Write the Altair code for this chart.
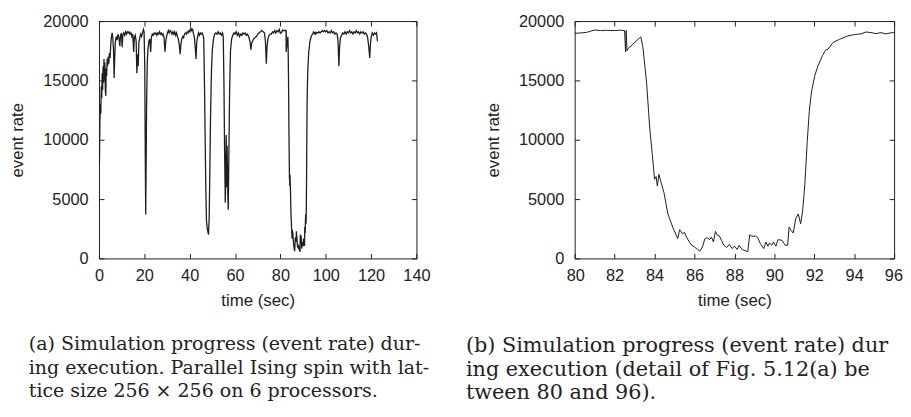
import altair as alt
import pandas as pd

# ---- data ----
time_a = [0.2, 0.4, 0.6, 0.8, 1.0, 1.2, 1.4, 1.6, 1.8, 2.0, 2.2, 2.4, 2.6, 2.8, 3.0, 3.2, 3.4, 3.6, 3.8, 4.0,
          4.3, 4.6, 4.9, 5.2, 5.5, 5.8, 6.1, 6.4, 6.7, 6.9, 7.2, 7.6, 8.0, 8.4, 8.8, 9.2, 9.5, 9.9, 10.2, 10.5,
          10.9, 11.3, 11.7, 12.1, 12.5, 12.9, 13.3, 13.7, 14.1, 14.5, 14.9, 15.3, 15.6, 16.0, 16.4, 16.7, 17.0,
          17.3, 17.6, 18.0, 18.4, 18.8, 19.2, 19.6, 19.9, 20.2, 20.4, 20.6, 20.8, 21.0, 21.3, 21.6, 22.0, 22.4,
          22.8, 23.1, 23.5, 23.9, 24.3, 24.7, 25.1, 25.5, 25.9, 26.3, 26.7, 27.1, 27.5, 27.9, 28.3, 28.7, 29.1,
          29.4, 29.8, 30.2, 30.6, 31.0, 31.4, 31.8, 32.2, 32.6, 33.0, 33.4, 33.8, 34.2, 34.6, 35.0, 35.4, 35.8,
          36.1, 36.5, 36.9, 37.3, 37.7, 38.1, 38.5, 38.9, 39.3, 39.7, 40.1, 40.5, 40.9, 41.3, 41.7, 42.1, 42.5,
          42.8, 43.1, 43.5, 43.9, 44.3, 44.7, 45.1, 45.5, 45.9, 46.2, 46.5, 46.8, 47.1, 47.4, 47.7, 48.0, 48.3,
          48.6, 48.9, 49.2, 49.6, 50.0, 50.5, 51.0, 51.5, 52.0, 52.5, 53.0, 53.5, 54.0, 54.5, 54.8, 55.1, 55.4,
          55.7, 55.9, 56.1, 56.3, 56.5, 56.8, 57.0, 57.3, 57.6, 58.0, 58.5, 59.0, 59.5, 60.0, 60.5, 61.0, 61.5,
          62.0, 62.5, 63.0, 63.5, 64.0, 64.5, 65.0, 65.5, 66.0, 66.6, 67.0, 67.3, 67.7, 68.2, 68.8, 69.4, 70.0,
          70.6, 71.2, 71.8, 72.4, 73.0, 73.4, 73.8, 74.1, 74.5, 75.0, 75.5, 76.0, 76.5, 77.0, 77.5, 78.0, 78.5,
          79.0, 79.5]
rate_a = [8000, 11500, 13000, 12200, 14500, 13500, 15600, 14200, 16200, 14800, 16800, 15000, 16500, 14200, 13700,
          16000, 15400, 16800, 16200, 17000, 16400, 17300, 16900, 18000, 18700, 19000, 18600, 17600, 15200, 16800,
          18200, 18700, 18400, 18900, 18600, 17900, 18800, 19000, 17800, 18800, 19000, 18800, 19100, 18900, 19100,
          19000, 19100, 18900, 19000, 18700, 18900, 17400, 18600, 18800, 18300, 15600, 17200, 16200, 18200, 18600,
          18900, 18700, 19000, 19300, 19100, 16000, 9000, 3700, 8000, 13000, 16500, 17600, 18300, 18500, 17400,
          18600, 18900, 18800, 19000, 18900, 19000, 18800, 19000, 18900, 19100, 18900, 19000, 18800, 18900, 18600,
          17400, 18200, 18700, 19000, 19200, 19000, 19200, 19100, 18900, 19100, 18900, 19100, 18800, 19000, 18700,
          18500, 18000, 17200, 18000, 18500, 18700, 18600, 18900, 19000, 18900, 19100, 19000, 19200, 19100, 19400,
          19200, 19300, 18900, 18600, 17600, 16800, 18200, 18700, 19000, 18800, 19000, 18900, 19000, 18800, 18500,
          15000, 10500, 6000, 3200, 2600, 2300, 2000, 3400, 7500, 12000, 15800, 17600, 18500, 18900, 19000, 18900,
          19100, 18900, 19000, 18800, 19000, 18700, 15000, 9000, 4700, 7000, 10400, 6000, 9500, 5500, 4100, 9000,
          14000, 17500, 18500, 18800, 19000, 18900, 19100, 18800, 19000, 18700, 18900, 18800, 19000, 18900, 19000,
          18800, 18900, 18700, 18300, 17600, 18100, 18300, 18500, 18600, 18700, 18900, 19000, 19100, 19200, 19100,
          19000, 18300, 16400, 17800, 18500, 18800, 18900, 18900, 19100, 19000, 19200, 19000, 19200, 19100, 19300]

time_b = [80.0, 80.3, 80.6, 81.0, 81.3, 81.6, 82.0, 82.3, 82.5, 82.55, 82.58, 82.62, 82.66, 83.31, 83.42, 83.6,
          83.76, 83.89, 84.0, 84.08, 84.14, 84.22, 84.33, 84.47, 84.67, 84.91, 85.16, 85.26, 85.4, 85.5, 85.6,
          85.74, 85.86, 85.99, 86.16, 86.27, 86.4, 86.52, 86.65, 86.75, 86.85, 86.95, 87.05, 87.15, 87.25, 87.35,
          87.48, 87.61, 87.75, 87.88, 88.01, 88.14, 88.24, 88.39, 88.57, 88.67, 88.77, 88.88, 89.05, 89.17, 89.3,
          89.47, 89.58, 89.68, 89.76, 89.88, 89.96, 90.08, 90.18, 90.38, 90.54, 90.67, 90.74, 90.84, 90.95, 91.07,
          91.2, 91.32, 91.42, 91.53, 91.65, 91.75, 91.86, 92.03, 92.19, 92.41, 92.57, 92.69, 92.94, 93.27, 93.68,
          94.01, 94.34, 94.59, 94.84, 95.09, 95.34, 95.59, 95.8, 96.0]
rate_b = [18970, 19000, 19050, 19250, 19200, 19220, 19200, 19230, 19200, 17400, 19200, 17500, 17650, 18670, 17780,
          14860, 10970, 8750, 6670, 6900, 6110, 7080, 6390, 5560, 3750, 2640, 1670, 2420, 2080, 2200, 1800, 1390,
          1110, 970, 750, 610, 970, 1640, 1750, 1580, 1800, 1390, 2280, 1940, 1900, 1530, 1110, 920, 1190, 830,
          1030, 750, 1110, 750, 640, 560, 2000, 1860, 1890, 1750, 1250, 830, 1390, 1030, 1300, 1110, 1390, 1030,
          1580, 1530, 1110, 1110, 2640, 2360, 2140, 3330, 3750, 2920, 4030, 6250, 9860, 12360, 14030, 15420, 16250,
          17080, 17560, 17640, 18190, 18470, 18750, 18860, 18920, 19080, 19030, 18940, 19030, 18920, 19000, 19030]

time_c = [96.5, 97.0, 97.5, 98.0, 98.5, 99.0, 99.5, 100.0, 100.5, 101.0, 101.5, 102.0, 102.5, 103.0, 103.5, 104.0,
          104.5, 105.0, 105.4, 105.8, 106.1, 106.5, 107.0, 107.5, 108.0, 108.5, 109.0, 109.5, 110.0, 110.5, 111.0,
          111.5, 112.0, 112.5, 113.0, 113.5, 114.0, 114.5, 115.0, 115.5, 116.0, 116.5, 117.0, 117.5, 118.0, 118.5,
          119.0, 119.4, 119.7, 120.0, 120.5, 121.0, 121.5, 122.0, 122.4, 122.8]
rate_c = [19000, 19100, 19000, 19100, 19200, 19100, 19200, 19100, 19200, 19000, 19100, 19000, 19200, 19000, 19100,
          18900, 19000, 18900, 18400, 16200, 17800, 18600, 18800, 19000, 18900, 19100, 18900, 19100, 19000, 19200,
          19000, 19100, 18900, 19100, 19000, 19200, 19000, 19100, 18900, 19100, 19000, 19100, 18900, 19000, 18900,
          18600, 17800, 16900, 18000, 18600, 19000, 18800, 19000, 18900, 19000, 18300]

x_ticks_a = [0, 20, 40, 60, 80, 100, 120, 140]
x_ticks_b = [80, 82, 84, 86, 88, 90, 92, 94, 96]
y_ticks = [0, 5000, 10000, 15000, 20000]

caption_a = ["(a) Simulation progress (event rate) dur-",
             "ing execution. Parallel Ising spin with lat-",
             "tice size 256 \u00d7 256 on 6 processors."]
caption_b = ["(b) Simulation progress (event rate) dur",
             "ing execution (detail of Fig. 5.12(a) be",
             "tween 80 and 96)."]

df_all = pd.DataFrame({"time": time_a + time_b + time_c, "rate": rate_a + rate_b + rate_c})
df_b = pd.DataFrame({"time": time_b, "rate": rate_b})

INK = "#1e1e1e"
TICK = 5


def panel(df, xdom, xticks, width, caption, cap_dx, cap_size, flush, flush_off, stroke):
    base = alt.Chart(df)
    main = base.mark_line(color=INK, strokeWidth=stroke, clip=True).encode(
        x=alt.X("time:Q", scale=alt.Scale(domain=xdom, nice=False, zero=False),
                axis=alt.Axis(orient="bottom", values=xticks, title="time (sec)", offset=-TICK,
                              tickSize=TICK, domain=False, grid=False, labelPadding=9.5, titlePadding=9,
                              labelFlush=flush, labelFlushOffset=flush_off, format="d")),
        y=alt.Y("rate:Q", scale=alt.Scale(domain=[0, 20000], nice=False),
                axis=alt.Axis(orient="left", values=y_ticks, title="event rate", offset=-TICK,
                              tickSize=TICK, domain=False, grid=False, labelPadding=11, titlePadding=16,
                              format="d")),
    )
    mirror = base.mark_line(opacity=0, clip=True).encode(
        x=alt.X("time:Q", scale=alt.Scale(domain=xdom, nice=False, zero=False),
                axis=alt.Axis(orient="top", values=xticks, title=None, labels=False, offset=-TICK,
                              tickSize=TICK, domain=False, grid=False)),
        y=alt.Y("rate:Q", scale=alt.Scale(domain=[0, 20000], nice=False),
                axis=alt.Axis(orient="right", values=y_ticks, title=None, labels=False, offset=-TICK,
                              tickSize=TICK, domain=False, grid=False)),
    )
    return alt.layer(main, mirror).resolve_axis(x="independent", y="independent").properties(
        width=width, height=240,
        title=alt.TitleParams(text=caption, orient="bottom", anchor="start", frame="group", dx=cap_dx,
                              offset=27, font="DejaVu Serif", fontSize=cap_size, fontWeight="normal",
                              lineHeight=23.5, color="#222222", baseline="top"),
    )


left = panel(df_all, [0, 140], x_ticks_a, 321, caption_a, -71, 19.2, False, 0, 1.3)
right = panel(df_b, [80, 96], x_ticks_b, 323, caption_b, -110, 21, True, 8.5, 1)

chart = alt.hconcat(left, right, spacing=160, bounds="flush").configure(
    padding={"left": 0, "top": 2, "right": 0, "bottom": 0},
    background="white",
).configure_view(stroke=INK, strokeWidth=1).configure_axis(
    labelFont="Liberation Sans", labelFontSize=16.5, labelColor="#222222",
    titleFont="Liberation Sans", titleFontSize=17, titleFontWeight="normal", titleColor="#222222",
    tickColor=INK, tickWidth=1,
)

chart.save("out.html", embed_options={"renderer": "svg", "actions": False})
